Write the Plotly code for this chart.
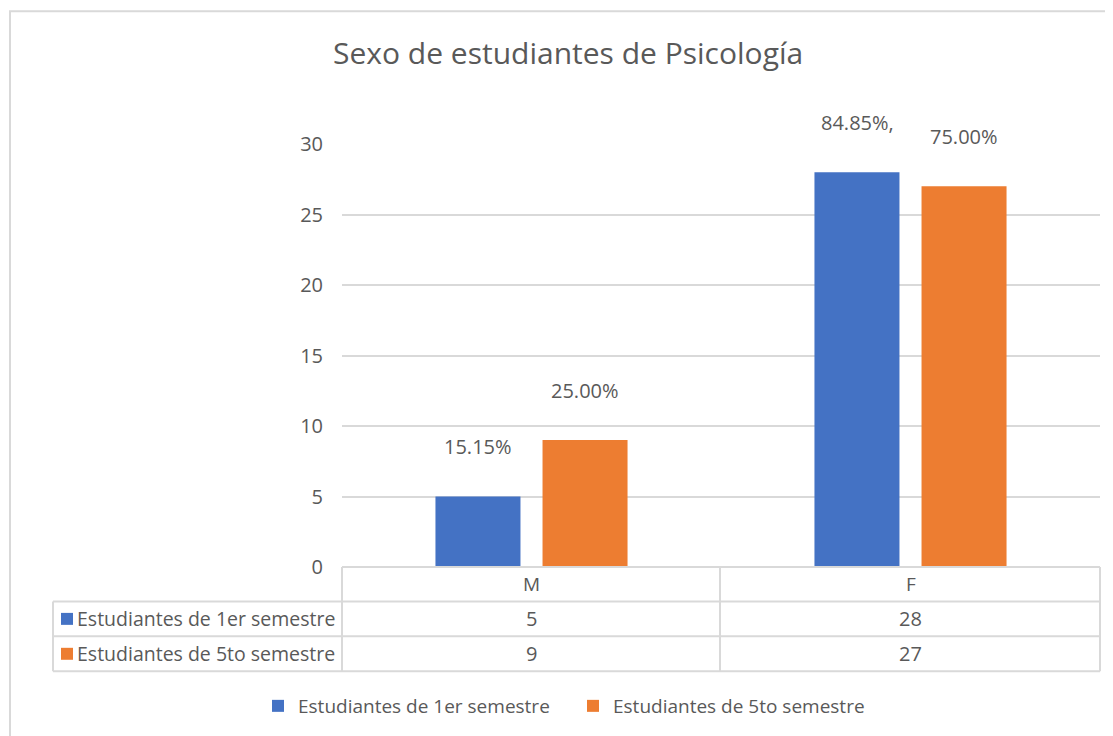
import plotly.graph_objects as go

categories = ["M", "F"]
series_names = ["Estudiantes de 1er semestre", "Estudiantes de 5to semestre"]
values_1er = [5, 28]
values_5to = [9, 27]
pct_1er = ["15.15%", "84.85%,"]
pct_5to = ["25.00%", "75.00%"]
y_ticks = [0, 5, 10, 15, 20, 25, 30]

BLUE = "#4472C4"
ORANGE = "#ED7D31"
GRID = "#d9d9d9"
TXT = "#595959"
FONT = "Open Sans"

OFF = 8  # page body margin
W, H = 1113 - OFF, 736 - OFF
# plot area in reference px: x 342..1100, y 144..568
L, T = 342 - OFF, 144 - OFF
R = W - (1100 - OFF)
B = H - (568 - OFF)
PW, PH = W - L - R, H - T - B


def px(x):
    return (x - OFF - L) / PW


def py(y):
    return (H - B - (y - OFF)) / PH


fig = go.Figure()
colors = [BLUE, ORANGE]
for name, vals, col in zip(series_names, [values_1er, values_5to], colors):
    fig.add_trace(go.Bar(x=categories, y=vals, name=name, marker_color=col,
                         marker_line_width=0, showlegend=True))

annotations = []
# data labels above bars
for vals, labels, shift in [(values_1er, pct_1er, -53.5), (values_5to, pct_5to, 53.5)]:
    for c, v, lab in zip(categories, vals, labels):
        annotations.append(dict(x=c, y=v, xref="x", yref="y", text=lab, showarrow=False,
                                xshift=shift, yshift=50, yanchor="middle",
                                font=dict(family=FONT, size=20, color=TXT)))

# title
annotations.append(dict(x=px(568), y=py(52), xref="paper", yref="paper",
                        text="Sexo de estudiantes de Psicología", showarrow=False,
                        xanchor="center", yanchor="middle",
                        font=dict(family=FONT, size=30, color=TXT)))

# data table text
for c in categories:
    annotations.append(dict(x=c, y=py(585), xref="x", yref="paper", text=c, showarrow=False,
                            yanchor="middle", font=dict(family=FONT, size=19, color=TXT)))
for row_y, vals in [(620, values_1er), (655, values_5to)]:
    for c, v in zip(categories, vals):
        annotations.append(dict(x=c, y=py(row_y), xref="x", yref="paper", text=str(v),
                                showarrow=False, yanchor="middle",
                                font=dict(family=FONT, size=20, color=TXT)))

shapes = []
# outer chart border (left and top visible)
shapes.append(dict(type="rect", xref="paper", yref="paper", x0=px(10), x1=px(1130),
                   y0=py(760), y1=py(11), line=dict(color=GRID, width=2)))

# table lines
for yy, x0 in [(568, 342), (602.5, 53), (637.5, 53), (672.5, 53)]:
    shapes.append(dict(type="line", xref="paper", yref="paper", x0=px(x0), x1=px(1100),
                       y0=py(yy), y1=py(yy), line=dict(color=GRID, width=2)))
for xx, y0 in [(53, 602.5), (342, 568), (720, 568), (1100, 568)]:
    shapes.append(dict(type="line", xref="paper", yref="paper", x0=px(xx), x1=px(xx),
                       y0=py(y0), y1=py(672.5), line=dict(color=GRID, width=2)))

# table row labels with colour keys
for row_y, name, col in [(620, series_names[0], BLUE), (655, series_names[1], ORANGE)]:
    shapes.append(dict(type="rect", xref="paper", yref="paper", x0=px(61), x1=px(73),
                       y0=py(row_y + 6), y1=py(row_y - 6), line=dict(width=0), fillcolor=col))
    annotations.append(dict(x=px(75), y=py(row_y), xref="paper", yref="paper", text=name,
                            showarrow=False, xanchor="left", yanchor="middle",
                            font=dict(family=FONT, size=19.5, color=TXT)))

fig.update_layout(
    width=W, height=H,
    margin=dict(l=L, r=R, t=T, b=B),
    paper_bgcolor="white", plot_bgcolor="white",
    barmode="group", bargap=0.435, bargroupgap=0.206,
    font=dict(family=FONT, size=19, color=TXT),
    xaxis=dict(showticklabels=False, showgrid=False, zeroline=False, showline=False,
               range=[-0.5, 1.5]),
    yaxis=dict(range=[0, 30], tickvals=y_ticks, showgrid=True, gridcolor=GRID, gridwidth=2,
               zeroline=False, showline=False, ticklabelstandoff=18,
               tickfont=dict(family=FONT, size=20, color=TXT)),
    legend=dict(orientation="h", x=px(258), xanchor="left", y=py(706), yanchor="middle",
                font=dict(family=FONT, size=19, color=TXT), itemwidth=30,
                entrywidth=270, entrywidthmode="pixels",
                bgcolor="rgba(0,0,0,0)"),
    annotations=annotations,
    shapes=shapes,
)

fig.write_html("out.html")
